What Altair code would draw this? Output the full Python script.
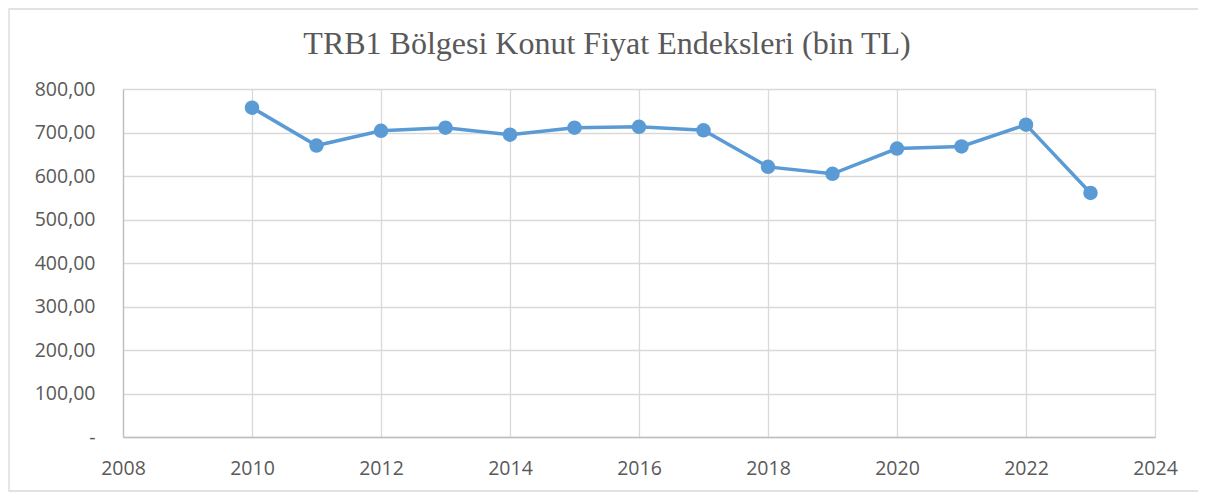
import altair as alt
import pandas as pd

years = [2010, 2011, 2012, 2013, 2014, 2015, 2016, 2017, 2018, 2019, 2020, 2021, 2022, 2023]
values = [757, 670, 704, 711, 695, 711, 713, 705, 621, 605, 663, 668, 718, 561]
x_ticks = [2008, 2010, 2012, 2014, 2016, 2018, 2020, 2022, 2024]
y_ticks = [0, 100, 200, 300, 400, 500, 600, 700, 800]
title_text = "TRB1 Bölgesi Konut Fiyat Endeksleri (bin TL)"

df = pd.DataFrame({"year": years, "value": values})

W, H = 1032, 348
PAD = {"left": 115, "top": 81, "right": 43, "bottom": 56}
LINE_COLOR = "#5B9BD5"
TEXT_COLOR = "#595959"
FONT = "Open Sans"

x_enc = alt.X(
    "year:Q",
    scale=alt.Scale(domain=[2008, 2024], nice=False, zero=False),
    axis=alt.Axis(
        values=x_ticks, format="d", title=None, ticks=False, labelFlush=False,
        labelPadding=22, labelFontSize=19.5, labelFont=FONT, labelColor=TEXT_COLOR,
        domainColor="#BFBFBF", domainWidth=1.3,
        gridColor="#D9D9D9", gridWidth=1.3,
    ),
)
y_enc = alt.Y(
    "value:Q",
    scale=alt.Scale(domain=[0, 800], nice=False),
    axis=alt.Axis(
        values=y_ticks, title=None, ticks=False, labelFlush=False,
        labelExpr="datum.value == 0 ? '-' : replace(format(datum.value, '.2f'), '.', ',')",
        labelPadding=28, labelFontSize=19.5, labelFont=FONT, labelColor=TEXT_COLOR,
        domainColor="#BFBFBF", domainWidth=1.3,
        gridColor="#D9D9D9", gridWidth=1.3,
    ),
)

line = alt.Chart(df).mark_line(color=LINE_COLOR, strokeWidth=3.5).encode(x=x_enc, y=y_enc)
points = alt.Chart(df).mark_circle(color=LINE_COLOR, opacity=1, size=210).encode(x="year:Q", y="value:Q")

one = pd.DataFrame({"t": [title_text]})
frame = alt.Chart(one).mark_rect(
    fill=None, stroke="#D9D9D9", strokeWidth=1.3, clip=False
).encode(
    x=alt.value(-114), x2=alt.value(W + 60),
    y=alt.value(-80), y2=alt.value(H + 54),
)
title = alt.Chart(one).mark_text(
    font="Liberation Serif", fontSize=32, color=TEXT_COLOR,
    align="center", baseline="alphabetic", clip=False
).encode(text="t:N", x=alt.value(484), y=alt.value(-35))

chart = alt.layer(frame, title, line, points).properties(
    width=W, height=H,
    padding=PAD,
    autosize=alt.AutoSizeParams(type="none"),
).configure_view(stroke=None).configure(background="white")

chart.save("out.html", embed_options={"renderer": "svg", "actions": False})
